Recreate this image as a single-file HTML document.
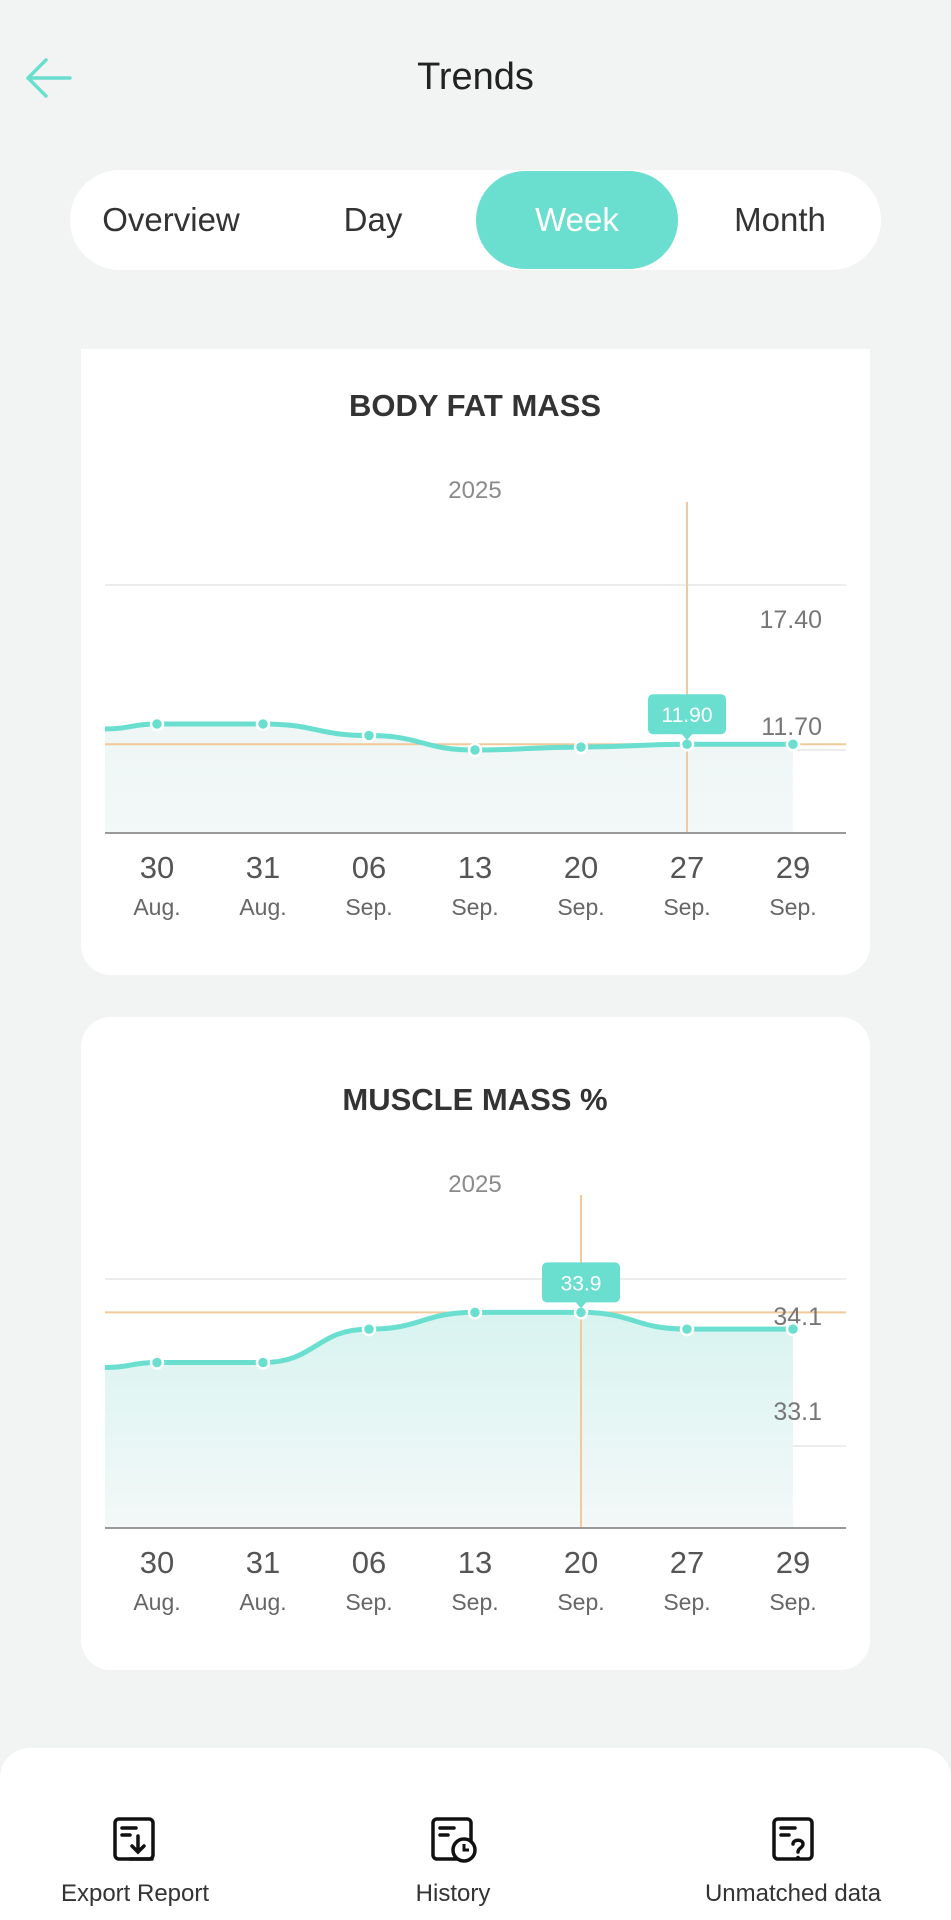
<!DOCTYPE html>
<html><head><meta charset="utf-8">
<style>
html,body{margin:0;padding:0;}
body{width:951px;height:1920px;background:#f2f4f3;font-family:"Liberation Sans",sans-serif;position:relative;overflow:hidden;color:#2b2b2b;}
.abs{position:absolute;}
.seg{left:70px;top:170px;width:811px;height:100px;background:#fff;border-radius:50px;}
.pill{left:476px;top:171px;width:202px;height:98px;background:#6adfd0;border-radius:49px;}
.card{left:81px;width:789px;background:#fff;}
.bottom{left:0;top:1748px;width:951px;height:172px;background:#fff;border-radius:30px 30px 0 0;}
.bl{font-size:24px;color:#333;transform:translateX(-50%);top:1880px;white-space:nowrap;}
</style></head><body>
<svg class="abs" style="left:24px;top:56px" width="50" height="44"><path d="M46 22H4M22 4L4 22L22 40" fill="none" stroke="#6adfd0" stroke-width="3.5" stroke-linecap="round" stroke-linejoin="round"/></svg>
<div class="abs" style="left:0;width:951px;top:56px;text-align:center;font-size:38px;color:#222">Trends</div>

<div class="abs seg"></div>
<div class="abs pill"></div>
<div class="abs" style="left:70px;top:170px;width:811px;height:100px">
<span class="abs" style="left:101px;top:0;line-height:100px;font-size:33px;transform:translateX(-50%);color:#333">Overview</span>
<span class="abs" style="left:303px;top:0;line-height:100px;font-size:33px;transform:translateX(-50%);color:#333">Day</span>
<span class="abs" style="left:507px;top:0;line-height:100px;font-size:33px;transform:translateX(-50%);color:#fff">Week</span>
<span class="abs" style="left:710px;top:0;line-height:100px;font-size:33px;transform:translateX(-50%);color:#333">Month</span>
</div>

<div class="abs card" style="top:349px;height:626px;border-radius:0 0 30px 30px"></div>
<div class="abs card" style="top:1017px;height:653px;border-radius:30px"></div>

<svg id="chart" class="abs" style="left:0;top:0" width="951" height="1748"></svg>

<div class="abs bottom"></div>
<svg class="abs" style="left:112px;top:1816px" width="46" height="48"><rect x="3" y="3" width="38" height="40" rx="4" fill="none" stroke="#111" stroke-width="3.5"/><path d="M10 12h14M10 19h8M26 20v16M20 30l6 6 6-6M18 43h22" fill="none" stroke="#111" stroke-width="3.5" stroke-linecap="round"/></svg>
<svg class="abs" style="left:430px;top:1816px" width="48" height="48"><rect x="3" y="3" width="38" height="40" rx="4" fill="none" stroke="#111" stroke-width="3.5"/><path d="M10 12h14M10 19h8" stroke="#111" stroke-width="3.5" stroke-linecap="round"/><circle cx="34" cy="34" r="11" fill="#fff" stroke="#111" stroke-width="3.5"/><path d="M34 28v6h5" fill="none" stroke="#111" stroke-width="3"/></svg>
<svg class="abs" style="left:771px;top:1816px" width="46" height="48"><rect x="3" y="3" width="38" height="40" rx="4" fill="none" stroke="#111" stroke-width="3.5"/><path d="M10 12h14M10 19h8M22 28c0-5 10-5 10 0c0 4-5 4-5 8" fill="none" stroke="#111" stroke-width="3.5" stroke-linecap="round"/><circle cx="27" cy="42" r="2.2" fill="#111"/></svg>
<div class="abs bl" style="left:135px">Export Report</div>
<div class="abs bl" style="left:453px">History</div>
<div class="abs bl" style="left:793px">Unmatched data</div>

<script>
const days = ["30","31","06","13","20","27","29"];
const months = ["Aug.","Aug.","Sep.","Sep.","Sep.","Sep.","Sep."];
const fatValues = [12.6,12.6,12.2,11.7,11.8,11.9,11.9];
const fatTicks = [17.40,11.70];
const fatSelected = 5;
const muscleValues = [33.6,33.6,33.8,33.9,33.9,33.8,33.8];
const muscleTicks = [34.1,33.1];
const muscleSelected = 4;

const NS="http://www.w3.org/2000/svg";
const svg=document.getElementById('chart');
function mk(tag,attrs,parent){const e=document.createElementNS(NS,tag);for(const k in attrs)e.setAttribute(k,attrs[k]);(parent||svg).appendChild(e);return e;}
const defs=mk('defs',{});
function drawChart(o){
  const left=105,right=846,x0=157,step=106;
  const xs=i=>x0+i*step;
  const ys=v=>o.y0+(v-o.t0)*(o.y1-o.y0)/(o.t1-o.t0);
  const t=mk('text',{x:475,y:o.titleY,'text-anchor':'middle','font-size':31,'font-weight':'bold',fill:'#333'});
  
  
  t.textContent=o.title;
  const yr=mk('text',{x:475,y:o.titleY+82,'text-anchor':'middle','font-size':24,fill:'#8a8a8a'});
  
  
  yr.textContent='2025';
  o.ticks.forEach(tv=>{
    const g=mk('line',{x1:left,x2:right,y1:ys(tv),y2:ys(tv),stroke:'#ececec','stroke-width':2});
    
    
  });
  const pts=o.values.map((v,i)=>[xs(i),ys(v)]);
  const start=[left,pts[0][1]+(pts[0][1]-pts[1][1])*0.4+5];
  const all=[start].concat(pts);
  let d='M'+all[0][0]+','+all[0][1];
  for(let i=0;i<all.length-1;i++){const a=all[i],b=all[i+1],mx=(a[0]+b[0])/2;d+=' C'+mx+','+a[1]+' '+mx+','+b[1]+' '+b[0]+','+b[1];}
  const gid='g'+o.name;
  const lg=mk('linearGradient',{id:gid,x1:0,y1:0,x2:0,y2:1},defs);
  mk('stop',{offset:0,'stop-color':o.fillTop},lg);mk('stop',{offset:1,'stop-color':'#f3f8f8'},lg);
  const area=mk('path',{d:d+' L'+pts[pts.length-1][0]+','+o.base+' L'+left+','+o.base+' Z',fill:'url(#'+gid+')'});
  
  
  const sv=o.values[o.sel];
  mk('line',{x1:left,x2:right,y1:ys(sv),y2:ys(sv),stroke:'#f3c99a','stroke-width':2});
  mk('line',{x1:xs(o.sel),x2:xs(o.sel),y1:o.vTop,y2:o.base,stroke:'#f3c99a','stroke-width':2});
  o.ticks.forEach((tv,i)=>{
    const lb=mk('text',{x:822,y:ys(tv)+o.labOff[i],'text-anchor':'end','font-size':25,fill:'#777'});
    
    
    lb.textContent=o.fmt(tv);
  });
  const ln=mk('path',{d:d,fill:'none',stroke:'#6adfd0','stroke-width':5});
  
  
  mk('line',{x1:left,x2:right,y1:o.base,y2:o.base,stroke:'#999','stroke-width':2});
  pts.forEach((p,i)=>{
    const c=mk('circle',{cx:p[0],cy:p[1],r:6,fill:'#6adfd0',stroke:'#fff','stroke-width':2.5});
    
    
    const dl=mk('text',{x:p[0],y:o.base+45,'text-anchor':'middle','font-size':31,fill:'#555'});
    
    
    dl.textContent=days[i];
    const ml=mk('text',{x:p[0],y:o.base+82,'text-anchor':'middle','font-size':23,fill:'#666'});
    
    
    ml.textContent=months[i];
  });
  const sx=xs(o.sel),sy=ys(sv);
  const tb=mk('rect',{x:sx-39,y:sy-50,width:78,height:40,rx:5,fill:'#6adfd0'});
  
  
  mk('path',{d:'M'+(sx-6)+','+(sy-11)+' L'+sx+','+(sy-4)+' L'+(sx+6)+','+(sy-11)+'Z',fill:'#6adfd0'});
  const tt=mk('text',{x:sx,y:sy-22,'text-anchor':'middle','font-size':21,fill:'#fff'});
  
  
  tt.textContent=o.fmt(sv);
}
drawChart({name:'body-fat',title:'BODY FAT MASS',titleY:416,values:fatValues,ticks:fatTicks,sel:fatSelected,
  t0:17.40,y0:585,t1:11.70,y1:750,base:833,vTop:502,labOff:[43,-15],fillTop:'#eef6f6',fmt:v=>v.toFixed(2)});
drawChart({name:'muscle-mass',title:'MUSCLE MASS %',titleY:1110,values:muscleValues,ticks:muscleTicks,sel:muscleSelected,
  t0:34.1,y0:1279,t1:33.1,y1:1446,base:1528,vTop:1195,labOff:[46,-26],fillTop:'#d8f4f0',fmt:v=>v.toFixed(1)});
</script>
</body></html>
